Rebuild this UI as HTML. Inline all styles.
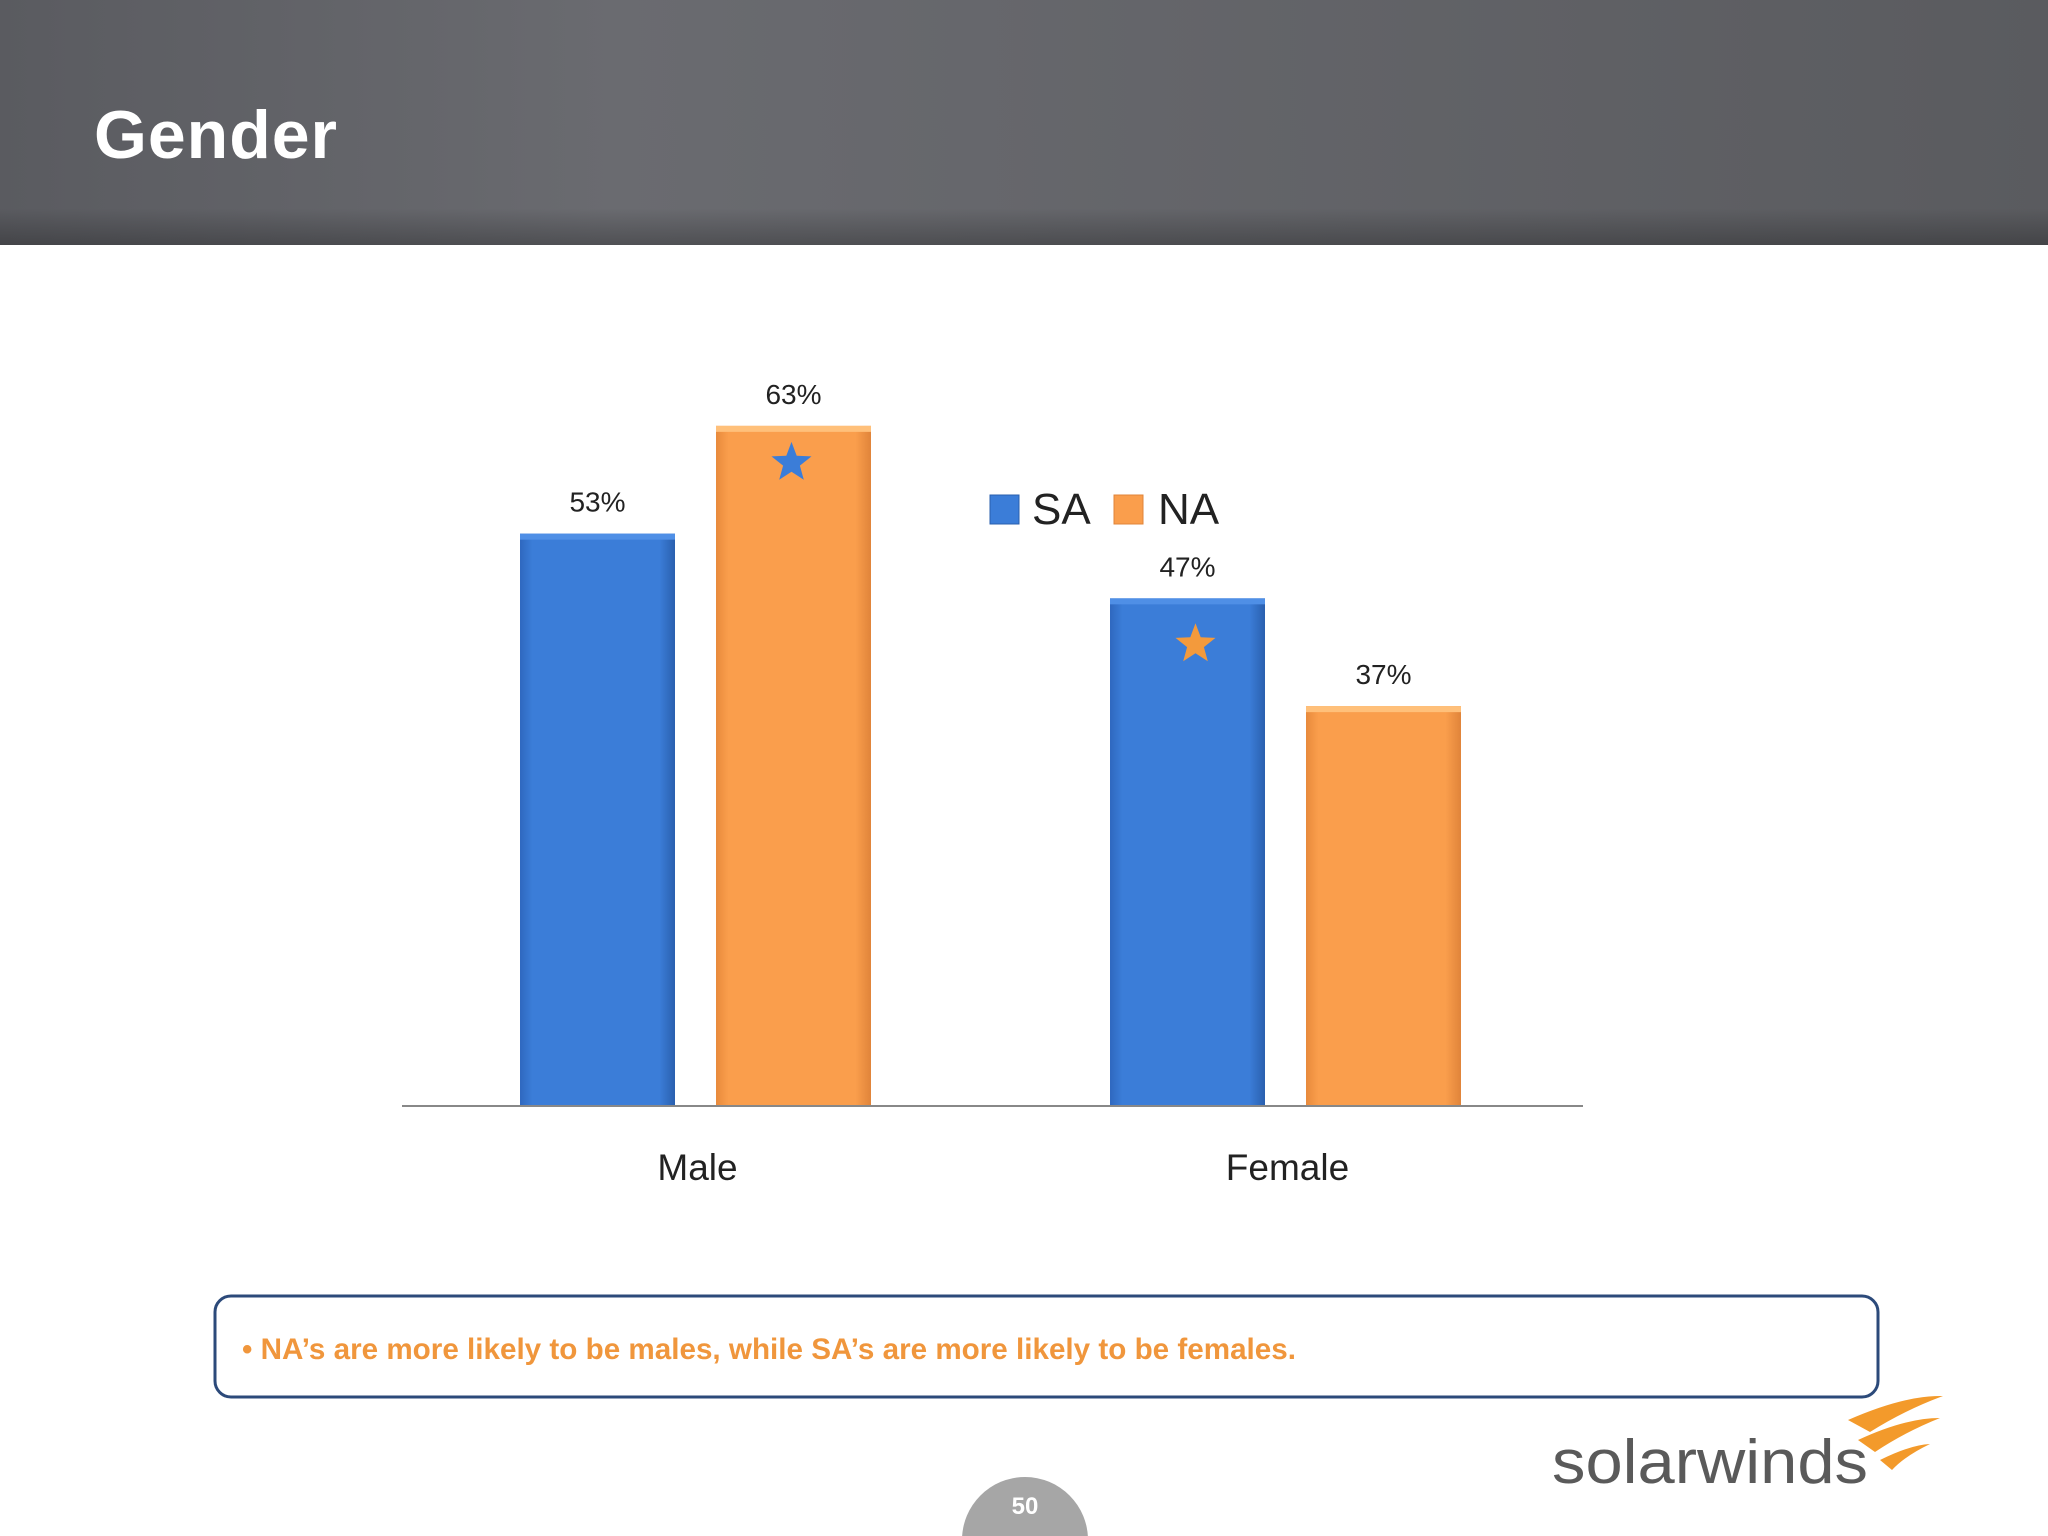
<!DOCTYPE html>
<html><head><meta charset="utf-8">
<style>
html,body{margin:0;padding:0;background:#fff;}
svg{display:block;font-family:"Liberation Sans",sans-serif;}
</style></head>
<body>
<svg id="chart" width="2048" height="1536" viewBox="0 0 2048 1536" xmlns="http://www.w3.org/2000/svg">
<defs>
<linearGradient id="hdr" x1="0" y1="0" x2="1" y2="0">
<stop offset="0" stop-color="#5a5b60"/><stop offset="0.3" stop-color="#6a6b70"/><stop offset="1" stop-color="#5a5b5f"/>
</linearGradient>
<linearGradient id="hdrShade" x1="0" y1="0" x2="0" y2="1">
<stop offset="0.85" stop-color="#000" stop-opacity="0"/><stop offset="1" stop-color="#000" stop-opacity="0.25"/>
</linearGradient>
<linearGradient id="blueG" x1="0" y1="0" x2="1" y2="0">
<stop offset="0" stop-color="#2f68bf"/><stop offset="0.08" stop-color="#3b7dd8"/><stop offset="0.9" stop-color="#3b7dd8"/><stop offset="1" stop-color="#2a5fae"/>
</linearGradient>
<linearGradient id="orangeG" x1="0" y1="0" x2="1" y2="0">
<stop offset="0" stop-color="#e88a3c"/><stop offset="0.08" stop-color="#fa9e4c"/><stop offset="0.9" stop-color="#fa9e4c"/><stop offset="1" stop-color="#e0843a"/>
</linearGradient>
</defs>
<rect x="0" y="0" width="2048" height="245" fill="url(#hdr)"/>
<rect x="0" y="0" width="2048" height="245" fill="url(#hdrShade)"/>
<text x="94" y="158" font-size="68" font-weight="bold" fill="#fff" textLength="243">Gender</text>

<g id="plot"></g>

<rect x="990" y="495" width="29" height="29" fill="#3b7dd8" stroke="#2a5fae"/>
<text x="1032" y="524" font-size="44" fill="#222">SA</text>
<rect x="1114" y="495" width="29" height="29" fill="#fa9e4c" stroke="#e0843a"/>
<text x="1158" y="524" font-size="44" fill="#222">NA</text>

<rect x="215" y="1296" width="1663" height="101" rx="16" fill="#fff" stroke="#2c4a7a" stroke-width="3"/>
<text x="242" y="1359" font-size="30" font-weight="bold" fill="#f0963c" textLength="1054" lengthAdjust="spacingAndGlyphs">• NA’s are more likely to be males, while SA’s are more likely to be females.</text>

<text x="1552" y="1483" font-size="62" fill="#5a5a5a" textLength="316" lengthAdjust="spacingAndGlyphs">solarwinds</text>
<g fill="#f39a2b">
<path d="M1848 1420 Q1905 1395 1943 1396 Q1905 1410 1870 1432 Z"/>
<path d="M1858 1440 Q1905 1418 1940 1418 Q1905 1432 1875 1452 Z"/>
<path d="M1880 1460 Q1910 1445 1930 1444 Q1905 1456 1892 1470 Z"/>
</g>

<circle cx="1025" cy="1540" r="63" fill="#a6a6a6"/>
<text x="1025" y="1514" font-size="24" font-weight="bold" fill="#fff" text-anchor="middle">50</text>
</svg>
<script>
const categories = ["Male", "Female"];
const seriesNames = ["SA", "NA"];
const saValues = [53, 47];
const naValues = [63, 37];
const valueLabels = [["53%", "47%"], ["63%", "37%"]];
const starMarks = [[false, true], [true, false]]; // [series][category]

const svg = document.getElementById('plot');
const NS = "http://www.w3.org/2000/svg";
const baseY = 1105, pxPerPct = 10.78;
const y = v => baseY - v * pxPerPct;
const groupStart = [520, 1110];
const barW = 155, barGap = 196;
const x = (ci, si) => groupStart[ci] + si * barGap;
const series = [saValues, naValues];
const fills = ["url(#blueG)", "url(#orangeG)"];
const tops = ["#4f8fe6", "#ffc07a"];
const starFill = ["#f39a3c", "#3b7dd8"];
const starDy = [46, 37];

function starPath(cx, cy, R) {
  let d = "";
  for (let i = 0; i < 10; i++) {
    const r = i % 2 ? R * 0.42 : R;
    const a = -Math.PI / 2 + i * Math.PI / 5;
    d += (i ? "L" : "M") + (cx + r * Math.cos(a)).toFixed(1) + " " + (cy + r * Math.sin(a)).toFixed(1);
  }
  return d + "Z";
}

series.forEach((vals, si) => {
  vals.forEach((v, ci) => {
    const bx = x(ci, si), by = y(v);
    const r = document.createElementNS(NS, "rect");
    r.setAttribute("x", bx); r.setAttribute("y", by);
    r.setAttribute("width", barW); r.setAttribute("height", baseY - by);
    r.setAttribute("fill", fills[si]);
    
    
    svg.appendChild(r);
    const t = document.createElementNS(NS, "rect");
    t.setAttribute("x", bx); t.setAttribute("y", by);
    t.setAttribute("width", barW); t.setAttribute("height", 6);
    t.setAttribute("fill", tops[si]);
    svg.appendChild(t);
    const lbl = document.createElementNS(NS, "text");
    lbl.setAttribute("x", bx + barW / 2); lbl.setAttribute("y", by - 22);
    lbl.setAttribute("font-size", "28"); lbl.setAttribute("fill", "#222");
    lbl.setAttribute("text-anchor", "middle");
    lbl.textContent = valueLabels[si][ci];
    
    
    svg.appendChild(lbl);
    if (starMarks[si][ci]) {
      const s = document.createElementNS(NS, "path");
      s.setAttribute("d", starPath(bx + barW / 2 - 2 + (si === 0 ? 10 : 0), by + starDy[si], 21));
      s.setAttribute("fill", starFill[si]);
      
      
      svg.appendChild(s);
    }
  });
});

const ax = document.createElementNS(NS, "line");
ax.setAttribute("x1", 402); ax.setAttribute("x2", 1583);
ax.setAttribute("y1", baseY + 1); ax.setAttribute("y2", baseY + 1);
ax.setAttribute("stroke", "#888"); ax.setAttribute("stroke-width", "2");


svg.appendChild(ax);

categories.forEach((c, ci) => {
  const t = document.createElementNS(NS, "text");
  t.setAttribute("x", (x(ci, 0) + x(ci, 1) + barW) / 2 + 2);
  t.setAttribute("y", 1180);
  t.setAttribute("font-size", "37"); t.setAttribute("fill", "#222");
  t.setAttribute("text-anchor", "middle");
  t.textContent = c;
  
  
  svg.appendChild(t);
});
</script>
</body></html>
